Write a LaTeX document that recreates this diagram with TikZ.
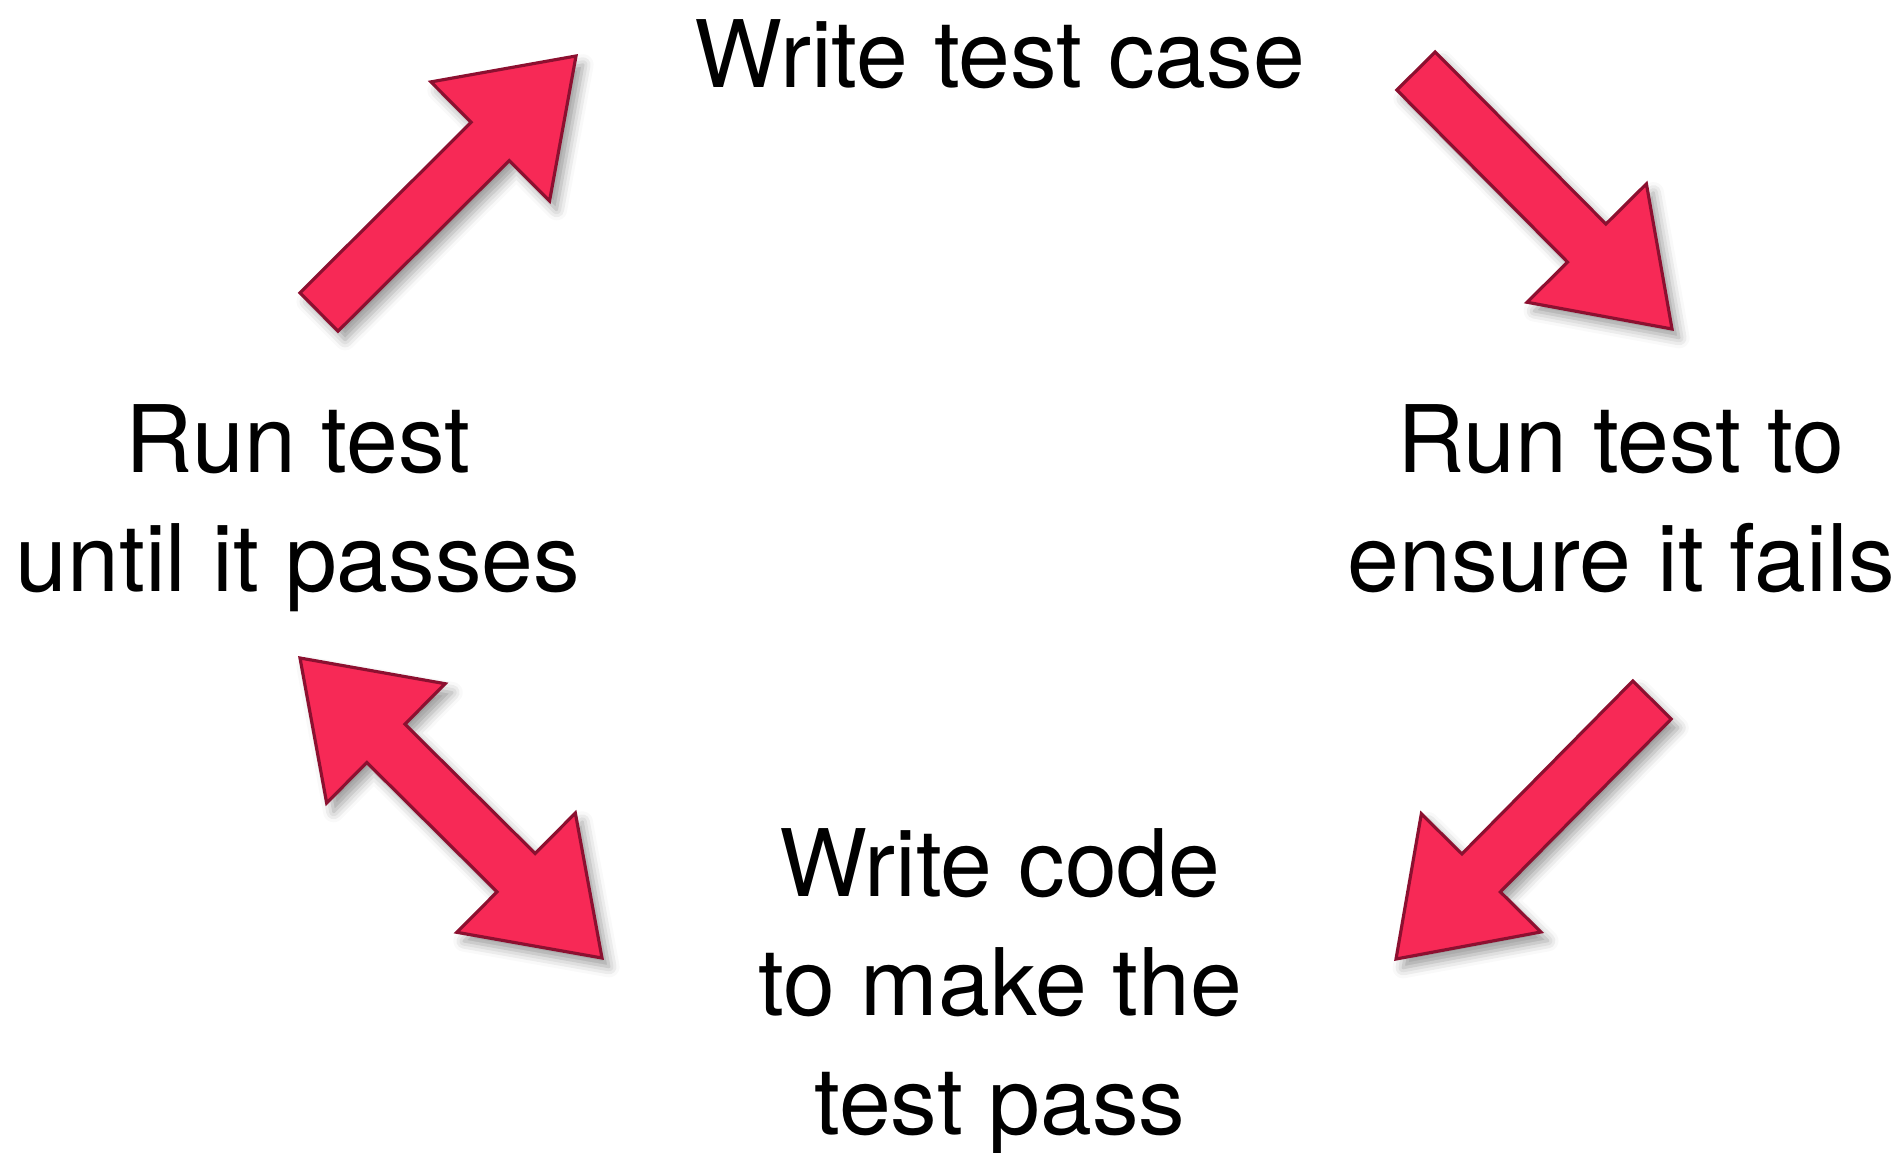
\documentclass[tikz,border=0pt]{standalone}
\usepackage{fontspec}
\setmainfont{TeX Gyre Heros}
\usepackage{tikz}
\usetikzlibrary{calc}
\usetikzlibrary{shadows.blur}
\definecolor{arrowred}{RGB}{247,41,86}
\definecolor{arrowdark}{RGB}{140,16,48}
\newcommand{\headlength}{1.21cm}
\newcommand{\shafthalf}{0.27cm}
\newcommand{\headhalf}{0.84cm}
\tikzset{
    phase/.style={anchor=base, align=center, inner sep=0pt, font=\fontsize{26.5pt}{33.8pt}\selectfont},
    bigarrow/.style={fill=arrowred, draw=arrowdark, line width=0.9pt, line join=miter,
        blur shadow={shadow xshift=2pt, shadow yshift=-2.5pt, shadow blur radius=3pt, shadow opacity=40}}
}
% #1 = tail, #2 = tip
\newcommand{\onearrow}[2]{
    \path ($(#2)!\headlength!(#1)$) coordinate (#2-neck);
    \draw[bigarrow]
        ($(#1)!\shafthalf!90:(#2)$) -- ($(#2-neck)!\shafthalf!90:(#2)$) -- ($(#2-neck)!\headhalf!90:(#2)$)
        -- (#2)
        -- ($(#2-neck)!\headhalf!-90:(#2)$) -- ($(#2-neck)!\shafthalf!-90:(#2)$) -- ($(#1)!\shafthalf!-90:(#2)$)
        -- cycle;
}
% #1, #2 = the two tips
\newcommand{\twoarrow}[2]{
    \path ($(#1)!\headlength!(#2)$) coordinate (#1-neck)
          ($(#2)!\headlength!(#1)$) coordinate (#2-neck);
    \draw[bigarrow]
        (#1)
        -- ($(#1-neck)!\headhalf!90:(#2)$) -- ($(#1-neck)!\shafthalf!90:(#2)$)
        -- ($(#2-neck)!\shafthalf!90:(#2)$) -- ($(#2-neck)!\headhalf!90:(#2)$)
        -- (#2)
        -- ($(#2-neck)!\headhalf!-90:(#2)$) -- ($(#2-neck)!\shafthalf!-90:(#2)$)
        -- ($(#1-neck)!\shafthalf!-90:(#2)$) -- ($(#1-neck)!\headhalf!-90:(#2)$)
        -- cycle;
}
\begin{document}
\begin{tikzpicture}[x=0.01cm, y=-0.01cm]
    \useasboundingbox (0,0) rectangle (1898,1152);

    % base anchor = last line
    \node[phase] (write-test) at (1000,88) {Write test case};
    \node[phase] (run-fail) at (1621,591) {Run test to\\ensure it fails};
    \node[phase] (write-code) at (1000,1134) {Write code\\to make the\\test pass};
    \node[phase] (run-pass) at (298,591) {Run test\\until it passes};

    \coordinate (pass-tail) at (319,312);
    \coordinate (pass-tip) at (576,56);
    \coordinate (test-tail) at (1416,71);
    \coordinate (test-tip) at (1672,329);
    \coordinate (fail-tail) at (1652,700);
    \coordinate (fail-tip) at (1396,959);
    \coordinate (code-tip) at (602,958);
    \coordinate (back-tip) at (300,658);

    \onearrow{pass-tail}{pass-tip}
    \onearrow{test-tail}{test-tip}
    \onearrow{fail-tail}{fail-tip}
    \twoarrow{back-tip}{code-tip}
\end{tikzpicture}
\end{document}
